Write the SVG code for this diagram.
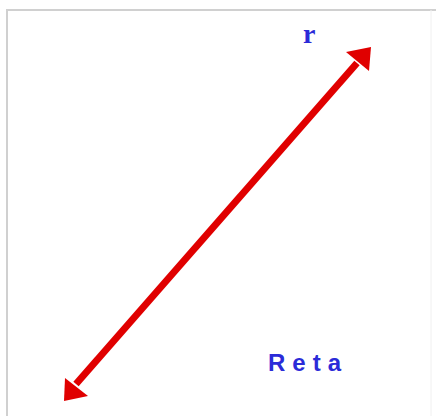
<svg xmlns="http://www.w3.org/2000/svg" width="436" height="416" viewBox="0 0 436 416">
<style>
.frame{fill:none;stroke:#d0d0d0;stroke-width:2}
.line{stroke:#e00000;stroke-width:7;fill:none}
.head{fill:#e00000}
.lbl{fill:#2b2bd8;font-weight:bold}
</style>
<rect width="436" height="416" fill="#ffffff"/>
<path class="frame" d="M7 416 V10 H436"/>
<line x1="431" y1="10" x2="431" y2="416" stroke="#f0f0f0" stroke-width="1"/>
<g id="connectors">
<line class="line" x1="76" y1="384" x2="357" y2="63"/>
<polygon class="head" points="371,47 369,71 346,52"/>
<polygon class="head" points="64,401 65,378 88,396"/>
</g>
<g id="label-r"><text class="lbl" x="303" y="43" font-family="Liberation Serif, serif" font-size="28">r</text></g>
<g id="label-reta"><text class="lbl" x="268" y="371" font-family="Liberation Sans, Arial, sans-serif" font-size="24" letter-spacing="7">Reta</text></g>
</svg>
